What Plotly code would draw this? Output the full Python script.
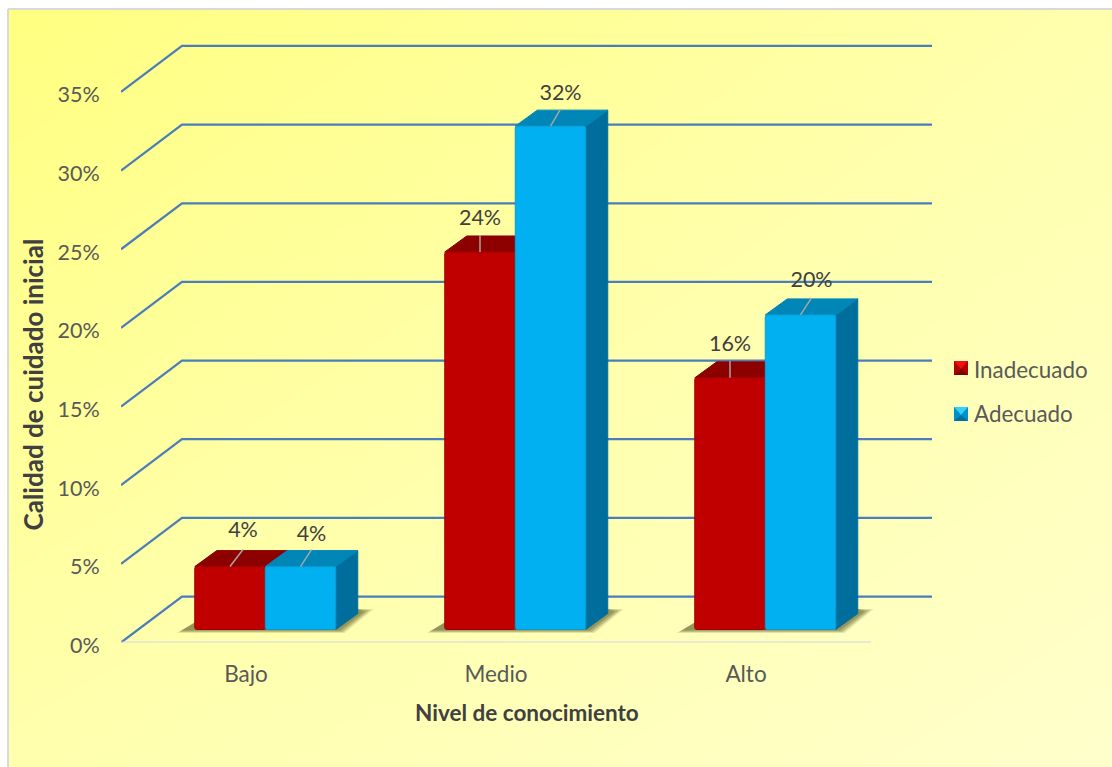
import plotly.graph_objects as go

# Chart data
categories = ["Bajo", "Medio", "Alto"]
inadecuado = [4, 24, 16]
adecuado = [4, 32, 20]
percent_ticks = [0, 5, 10, 15, 20, 25, 30, 35]

# Page and projection constants, all in pixels of the 1112x767 page
W, H = 1112, 767
CAT_X0, CAT_STEP = 246.0, 250.0       # pixel x of the first category, spacing
ZERO_Y, PX_PER_PCT = 642.5, 15.73     # pixel y of 0 %, pixels per percent unit
LEFT_PX, RIGHT_PX, TOP_PX = 121.0, 932.0, 40.0
WALL_DX, WALL_DY = 61.0, 46.0         # shift from the front plane to the back wall
BAR_W, BAR_SHIFT, BAR_LIFT = 70.5, 19.25, 13.0
BAR_DX, BAR_DY = 22.0, 16.0           # depth of each bar
FONT = "Lato"
TICK_COLOR = "#595959"
LABEL_COLOR = "#404040"
GRID_COLOR = "#4A7EBB"


def ux(px):
    return px / CAT_STEP


def uy(px):
    return px / PX_PER_PCT


x_range = [(LEFT_PX - CAT_X0) / CAT_STEP, (RIGHT_PX - CAT_X0) / CAT_STEP]
y_range = [0, (ZERO_Y - TOP_PX) / PX_PER_PCT]
x_domain = [LEFT_PX / W, RIGHT_PX / W]
y_domain = [(H - ZERO_Y) / H, (H - TOP_PX) / H]

fig = go.Figure()

# Diagonal page gradient on its own full-panel axes, drawn first
fig.add_trace(go.Heatmap(
    x=[0, 1], y=[0, 1], z=[[0.55, 1.0], [0.0, 0.55]],
    zsmooth="best", showscale=False, hoverinfo="skip",
    colorscale=[[0, "#FFFF80"], [0.5, "#FFFFAA"], [1, "#FFFFCC"]],
    xaxis="x", yaxis="y",
))

# Back wall gridlines with their diagonal run-in from the front plane
wall_x, wall_y = [], []
for v in percent_ticks:
    wall_x += [x_range[0], x_range[0] + ux(WALL_DX), x_range[1], None]
    wall_y += [v, v + uy(WALL_DY), v + uy(WALL_DY), None]
fig.add_trace(go.Scatter(
    x=wall_x, y=wall_y, mode="lines", cliponaxis=False, hoverinfo="skip",
    line=dict(color=GRID_COLOR, width=2.25), xaxis="x2", yaxis="y2",
))
# Floor edge along the front plane
fig.add_trace(go.Scatter(
    x=[x_range[0], len(categories) - 0.5], y=[0, 0], mode="lines", cliponaxis=False,
    hoverinfo="skip", line=dict(color="#D3D6E6", width=2), xaxis="x2", yaxis="y2",
))

# Floor shadows, layered so the edge fades out
for i in range(len(categories)):
    x0 = i + ux(BAR_SHIFT - BAR_W)
    x1 = i + ux(BAR_SHIFT + BAR_W)
    for inset, alpha in ((0.0, 0.14), (1.5, 0.20), (3.0, 0.26), (5.0, 0.34)):
        sx = [x0 + ux(-18 + inset), x0, x1 + ux(BAR_DX), x1 + ux(BAR_DX + 16 - inset * 1.8),
              x1 + ux(9 - inset), x0 + ux(-18 + inset)]
        sy = [uy(9.5 + inset * 0.5), uy(20), uy(33.5), uy(33.5 - inset * 0.5),
              uy(9.5 + inset * 0.5), uy(9.5 + inset * 0.5)]
        fig.add_trace(go.Scatter(
            x=sx, y=sy, mode="lines", fill="toself", fillcolor=f"rgba(96,96,48,{alpha})",
            line=dict(width=0), hoverinfo="skip", xaxis="x2", yaxis="y2",
        ))

# Side and top faces of each bar
series = [
    ("Inadecuado", inadecuado, -0.5, "#C00000", "#A00000", "#8C0000", "#7A0000"),
    ("Adecuado", adecuado, 0.5, "#00B0F0", "#0A9AD2", "#0085B7", "#006E9C"),
]
for name, values, slot, front, edge, top, side in series:
    for i, v in enumerate(values):
        xl = i + ux(BAR_SHIFT) + slot * ux(BAR_W) - ux(BAR_W) / 2
        xr = xl + ux(BAR_W)
        y0, y1 = uy(BAR_LIFT), uy(BAR_LIFT) + v
        dx, dy = ux(BAR_DX), uy(BAR_DY)
        fig.add_trace(go.Scatter(
            x=[xr, xr + dx, xr + dx, xr, xr], y=[y0, y0 + dy, y1 + dy, y1, y0],
            mode="lines", fill="toself", fillcolor=side, line=dict(color=side, width=1),
            hoverinfo="skip", xaxis="x2", yaxis="y2",
        ))
        fig.add_trace(go.Scatter(
            x=[xl, xl + dx, xr + dx, xr, xl], y=[y1, y1 + dy, y1 + dy, y1, y1],
            mode="lines", fill="toself", fillcolor=top, line=dict(color=top, width=1),
            hoverinfo="skip", xaxis="x2", yaxis="y2",
        ))

# Front faces
for name, values, slot, front, edge, top, side in series:
    fig.add_trace(go.Bar(
        x=[i + ux(BAR_SHIFT) + slot * ux(BAR_W) for i in range(len(values))],
        y=values, base=[uy(BAR_LIFT)] * len(values), width=ux(BAR_W), name=name,
        marker=dict(color=front, line=dict(color=edge, width=1), cornerradius=2),
        hoverinfo="skip", xaxis="x3", yaxis="y3",
    ))

# Leader lines and value labels; each leader has its own lean, and each label its own gap
leader_lean = {"Inadecuado": [13, 0, 0], "Adecuado": [11, 10, 11]}
label_gap = {"Inadecuado": [17.5, 15.5, 15.5], "Adecuado": [13.5, 14.5, 16.5]}
leader_rise = 17.0
for name, values, slot, front, edge, top, side in series:
    lead_x, lead_y, text_x, text_y, texts = [], [], [], [], []
    for i, v in enumerate(values):
        xc = i + ux(BAR_SHIFT) + slot * ux(BAR_W)
        yt = uy(BAR_LIFT) + v
        xe = xc + ux(leader_lean[name][i])
        ye = yt + uy(leader_rise)
        lead_x += [xc, xe, None]
        lead_y += [yt, ye, None]
        text_x.append(xe)
        text_y.append(ye + uy(label_gap[name][i]))
        texts.append(f"{v}%")
    fig.add_trace(go.Scatter(
        x=lead_x, y=lead_y, mode="lines", line=dict(color="#A6A6A6", width=1.5),
        hoverinfo="skip", xaxis="x3", yaxis="y3",
    ))
    fig.add_trace(go.Scatter(
        x=text_x, y=text_y, mode="text", text=texts, textposition="middle center",
        textfont=dict(family=FONT, size=21.5, color=LABEL_COLOR), cliponaxis=False,
        hoverinfo="skip", xaxis="x3", yaxis="y3",
    ))


def swatch(x0, y0, size, base, light, dark):
    """Bevelled legend key, four triangles round a square, in page pixels."""
    def p(px, py):
        return f"{px / W:.5f},{1 - py / H:.5f}"
    x1, y1 = x0 + size, y0 + size
    cx, cy = x0 + size / 2, y0 + size / 2 + 1
    out = [dict(type="rect", xref="paper", yref="paper", x0=x0 / W, x1=x1 / W,
                y0=1 - y1 / H, y1=1 - y0 / H, fillcolor=base, line=dict(width=0))]
    out.append(dict(type="path", xref="paper", yref="paper", line=dict(width=0), fillcolor=light,
                    path=f"M{p(x0, y0)} L{p(x1, y0)} L{p(cx, cy)} Z"))
    out.append(dict(type="path", xref="paper", yref="paper", line=dict(width=0), fillcolor=dark,
                    path=f"M{p(x0, y1)} L{p(x1, y1)} L{p(cx, cy)} Z"))
    return out


shapes = [
    # Thin panel frame on the top and left edges
    dict(type="line", xref="paper", yref="paper", x0=8 / W, x1=1, y0=1 - 9 / H, y1=1 - 9 / H,
         line=dict(color="#D9D9D9", width=2)),
    dict(type="line", xref="paper", yref="paper", x0=8 / W, x1=8 / W, y0=0, y1=1 - 9 / H,
         line=dict(color="#D9D9D9", width=2)),
]
shapes += swatch(954, 361, 14, "#B00000", "#F01010", "#7C0000")
shapes += swatch(954, 407, 14, "#0090C8", "#30D0FF", "#0070A0")

annotations = [
    dict(text="Calidad de cuidado inicial", x=32 / W, y=1 - 384.5 / H, xref="paper", yref="paper",
         textangle=-90, showarrow=False, xanchor="center", yanchor="middle",
         font=dict(family=FONT, size=26, color=LABEL_COLOR, weight="bold")),
    dict(text="Nivel de conocimiento", x=526.5 / W, y=1 - 712.5 / H, xref="paper", yref="paper",
         showarrow=False, xanchor="center", yanchor="middle",
         font=dict(family=FONT, size=22.5, color=LABEL_COLOR, weight="bold")),
]
for (name, *_), yc in zip(series, (369, 414)):
    annotations.append(dict(
        text=name, x=972 / W, y=1 - yc / H, xref="paper", yref="paper", showarrow=False,
        xanchor="left", yanchor="middle", font=dict(family=FONT, size=22.4, color=TICK_COLOR),
    ))

hidden = dict(visible=False, fixedrange=True, automargin=False)
fig.update_layout(
    width=W, height=H, autosize=False, margin=dict(l=0, r=0, t=0, b=0),
    paper_bgcolor="#FFFFFF", plot_bgcolor="rgba(0,0,0,0)",
    showlegend=False, barmode="overlay", shapes=shapes, annotations=annotations,
    xaxis=dict(domain=[8 / W, 1], range=[0, 1], **hidden),
    yaxis=dict(domain=[0, 1 - 9 / H], range=[0, 1], **hidden),
    xaxis2=dict(
        domain=x_domain, range=x_range, anchor="y2", tickmode="array", automargin=False,
        tickvals=list(range(len(categories))), ticktext=categories,
        showgrid=False, zeroline=False, showline=False,
        ticks="outside", ticklen=11, tickcolor="rgba(0,0,0,0)",
        tickfont=dict(family=FONT, size=22.5, color=TICK_COLOR),
    ),
    yaxis2=dict(
        domain=y_domain, range=y_range, anchor="x2", tickmode="array", automargin=False,
        tickvals=percent_ticks, ticktext=[f"{v}%" for v in percent_ticks],
        showgrid=False, zeroline=False, showline=False,
        ticks="outside", ticklen=16, tickcolor="rgba(0,0,0,0)", ticklabelshift=3,
        tickfont=dict(family=FONT, size=21.5, color=TICK_COLOR),
    ),
    xaxis3=dict(domain=x_domain, range=x_range, anchor="y3", **hidden),
    yaxis3=dict(domain=y_domain, range=y_range, anchor="x3", **hidden),
)

fig.write_html("out.html", config=dict(displayModeBar=False))
